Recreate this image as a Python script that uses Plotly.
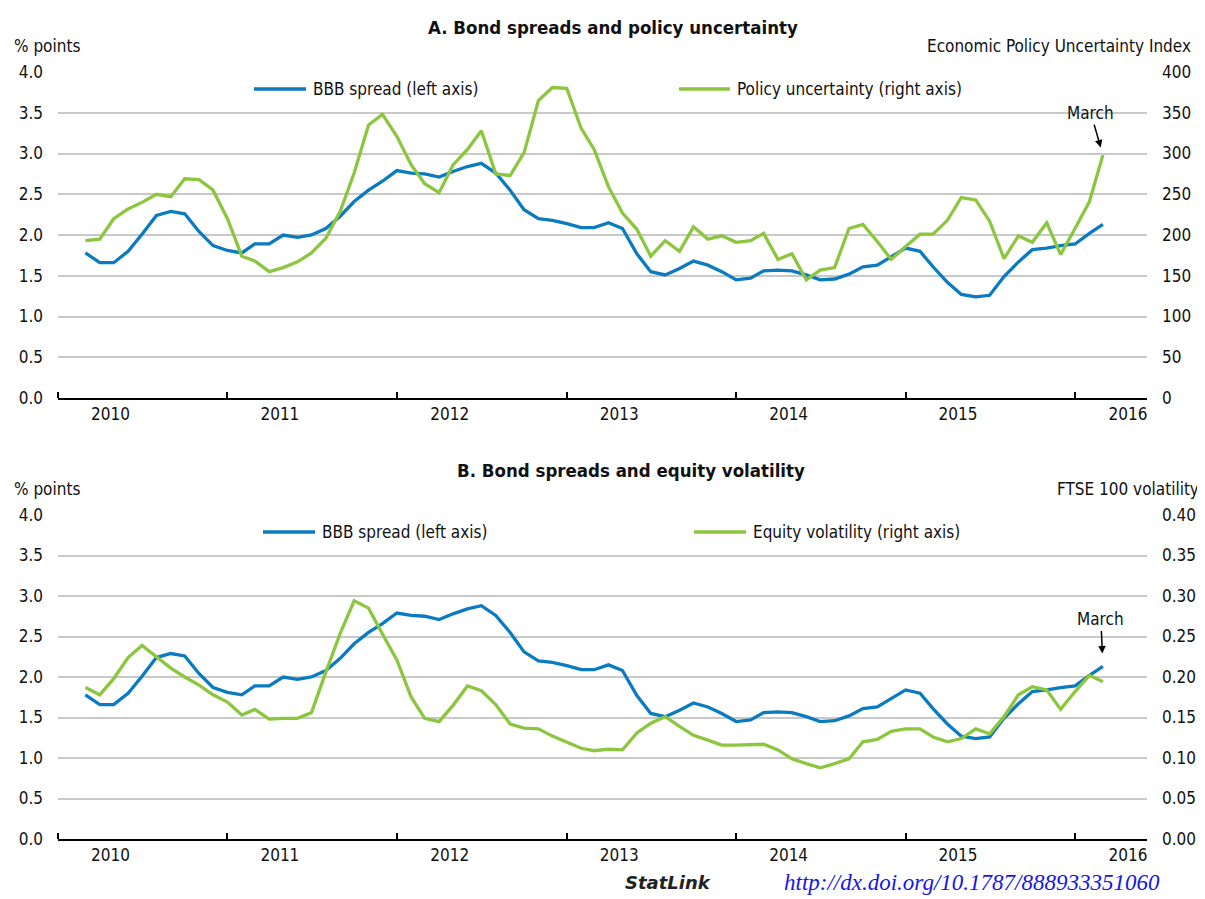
import pandas as pd
import plotly.graph_objects as go

# --- monthly data, March 2010 to March 2016 ---
dates = pd.date_range("2010-03-01", "2016-03-01", freq="MS")

bbb_spread = [1.78, 1.66, 1.66, 1.80, 2.01, 2.24, 2.29, 2.26, 2.04, 1.87,
              1.81, 1.78, 1.89, 1.89, 2.00, 1.97, 2.00, 2.08, 2.23, 2.41,
              2.55, 2.66, 2.79, 2.76, 2.75, 2.71, 2.78, 2.84, 2.88, 2.76,
              2.55, 2.31, 2.20, 2.18, 2.14, 2.09, 2.09, 2.15, 2.08, 1.77,
              1.55, 1.51, 1.59, 1.68, 1.63, 1.55, 1.45, 1.47, 1.56, 1.57,
              1.56, 1.51, 1.45, 1.46, 1.52, 1.61, 1.63, 1.73, 1.84, 1.80,
              1.61, 1.42, 1.27, 1.24, 1.26, 1.49, 1.67, 1.82, 1.84, 1.87,
              1.89, 2.02, 2.13]

policy_uncertainty = [193, 195, 220, 232, 240, 250, 247, 269, 268, 255,
                      220, 174, 168, 155, 160, 167, 178, 196, 229, 276,
                      335, 348, 321, 286, 263, 252, 286, 305, 328, 275,
                      273, 301, 365, 381, 380, 331, 305, 259, 227, 207,
                      174, 193, 180, 210, 195, 199, 191, 193, 202, 170,
                      177, 145, 157, 160, 208, 213, 192, 170, 186, 201,
                      201, 218, 246, 243, 217, 171, 199, 191, 215, 176,
                      208, 241, 298]

equity_volatility = [0.187, 0.178, 0.198, 0.224, 0.239, 0.225, 0.211, 0.200, 0.190, 0.178,
                     0.169, 0.153, 0.160, 0.148, 0.149, 0.149, 0.156, 0.206, 0.254, 0.294,
                     0.285, 0.253, 0.221, 0.175, 0.149, 0.145, 0.165, 0.189, 0.183, 0.166,
                     0.142, 0.137, 0.136, 0.127, 0.120, 0.112, 0.109, 0.111, 0.110, 0.131,
                     0.143, 0.151, 0.139, 0.128, 0.122, 0.116, 0.116, 0.116, 0.117, 0.110,
                     0.099, 0.093, 0.088, 0.093, 0.099, 0.120, 0.123, 0.133, 0.136, 0.136,
                     0.126, 0.120, 0.124, 0.136, 0.130, 0.151, 0.178, 0.188, 0.184, 0.160,
                     0.182, 0.202, 0.194]

years = ["2010", "2011", "2012", "2013", "2014", "2015", "2016"]

# --- styling ---
BLUE = "#0A7BC1"
GREEN = "#8CC63F"
GRID = "#C9C9C9"
FONT = "DejaVu Sans Condensed, Liberation Sans Narrow, sans-serif"
FS = 17

# the page body adds an 8px margin, so the figure is sized to sit inside 1205x899
OFF = 8
W, H = 1205 - OFF, 899 - OFF
ML, MR, MT, MB = 58 - OFF, 58, 72 - OFF, 60
PW = W - ML - MR
PH = H - MT - MB


def px(x):
    # screen x -> paper x
    return (x - OFF - ML) / PW


def py(y):
    # screen y -> paper y
    return (H + OFF - MB - y) / PH


fig = go.Figure()

# panel A
fig.add_trace(go.Scatter(x=dates, y=bbb_spread, mode="lines", line=dict(color=BLUE, width=3.3),
                         xaxis="x", yaxis="y", showlegend=False))
fig.add_trace(go.Scatter(x=dates, y=policy_uncertainty, mode="lines", line=dict(color=GREEN, width=3.3),
                         xaxis="x", yaxis="y2", showlegend=False))
# panel B
fig.add_trace(go.Scatter(x=dates, y=bbb_spread, mode="lines", line=dict(color=BLUE, width=3.3),
                         xaxis="x2", yaxis="y3", showlegend=False))
fig.add_trace(go.Scatter(x=dates, y=equity_volatility, mode="lines", line=dict(color=GREEN, width=3.3),
                         xaxis="x2", yaxis="y4", showlegend=False))

jan_ticks = [f"{y}-01-01" for y in years]
label_pos = [f"{y}-04-24" for y in years]

xaxis_style = dict(
    range=["2010-01-01", "2016-06-04"], showgrid=False, zeroline=False, automargin=False,
    showline=True, linecolor="black", linewidth=2,
    tickmode="array", tickvals=label_pos, ticktext=years, ticks="",
    tickfont=dict(family=FONT, size=FS, color="#111"),
    minor=dict(tickmode="array", tickvals=jan_ticks, ticks="inside", ticklen=6,
               tickwidth=1.5, tickcolor="black", showgrid=False),
    fixedrange=True,
)
left_style = dict(
    range=[0, 4], dtick=0.5, tick0=0, tickformat=".1f", showgrid=True, gridcolor=GRID,
    gridwidth=1.6, zeroline=False, showline=False, ticks="", ticklabelstandoff=14,
    automargin=False, tickfont=dict(family=FONT, size=FS, color="#111"),
)
right_style = dict(
    side="right", showgrid=False, zeroline=False, showline=False, ticks="",
    ticklabelstandoff=14, automargin=False, tickfont=dict(family=FONT, size=FS, color="#111"),
)

dom_a = [py(398), py(72)]
dom_b = [py(839), py(515)]

fig.update_layout(
    template="none",
    width=W, height=H,
    margin=dict(l=ML, r=MR, t=MT, b=MB),
    paper_bgcolor="white", plot_bgcolor="white",
    font=dict(family=FONT, size=FS, color="#111"),
    xaxis=dict(domain=[0, 1], anchor="y", **xaxis_style),
    xaxis2=dict(domain=[0, 1], anchor="y3", **xaxis_style),
    yaxis=dict(domain=dom_a, anchor="x", **left_style),
    yaxis2=dict(overlaying="y", anchor="x", range=[0, 400], dtick=50, tick0=0, **right_style),
    yaxis3=dict(domain=dom_b, anchor="x2", **left_style),
    yaxis4=dict(overlaying="y3", anchor="x2", range=[0, 0.4], dtick=0.05, tick0=0,
                tickformat=".2f", **right_style),
)

ann = []
shapes = []


def text(x, y, s, anchor="left", size=FS, bold=False, color="#111", family=FONT, italic=False):
    if bold:
        s = f"<b>{s}</b>"
    if italic:
        s = f"<i>{s}</i>"
    ann.append(dict(x=px(x), y=py(y), xref="paper", yref="paper", text=s, showarrow=False,
                    xanchor=anchor, yanchor="middle",
                    font=dict(family=family, size=size, color=color)))


# titles and axis captions
text(613, 28, "A. Bond spreads and policy uncertainty", anchor="center", size=18.5, bold=True)
text(12, 46, "% points")
text(1193, 46, "Economic Policy Uncertainty Index", anchor="right")
text(631, 470, "B. Bond spreads and equity volatility", anchor="center", size=18.5, bold=True)
text(12, 489, "% points")
text(1201, 489, "FTSE 100 volatility", anchor="right")

# legends drawn by hand (long line samples)
legend_items = [
    (254, 306, 89, BLUE, "BBB spread (left axis)"),
    (679, 730, 89, GREEN, "Policy uncertainty (right axis)"),
    (263, 315, 532, BLUE, "BBB spread (left axis)"),
    (694, 746, 532, GREEN, "Equity volatility (right axis)"),
]
for x0, x1, y, col, label in legend_items:
    shapes.append(dict(type="line", xref="paper", yref="paper", x0=px(x0), x1=px(x1),
                       y0=py(y), y1=py(y), line=dict(color=col, width=3.3)))
    text(x1 + 5, y, label)

# "March" markers on the last observation
ann.append(dict(x=dates[-1], y=policy_uncertainty[-1], xref="x", yref="y2", text="March",
                showarrow=True, arrowhead=2, arrowsize=1, arrowwidth=1.5, arrowcolor="black",
                ax=-12, ay=-42, standoff=8, font=dict(family=FONT, size=FS, color="#111")))
ann.append(dict(x=dates[-1], y=bbb_spread[-1], xref="x2", yref="y3", text="March",
                showarrow=True, arrowhead=2, arrowsize=1, arrowwidth=1.5, arrowcolor="black",
                ax=-2, ay=-47, standoff=13, font=dict(family=FONT, size=FS, color="#111")))

# StatLink footer
text(623, 882, "StatLink", size=18, bold=True, italic=True, family="DejaVu Sans, sans-serif", color="#222")
text(782, 882, "http://dx.doi.org/10.1787/888933351060", size=23, italic=True,
     family="Liberation Serif, Times New Roman, serif", color="#1515E6")

fig.update_layout(annotations=ann, shapes=shapes)

fig.write_html("out.html")
